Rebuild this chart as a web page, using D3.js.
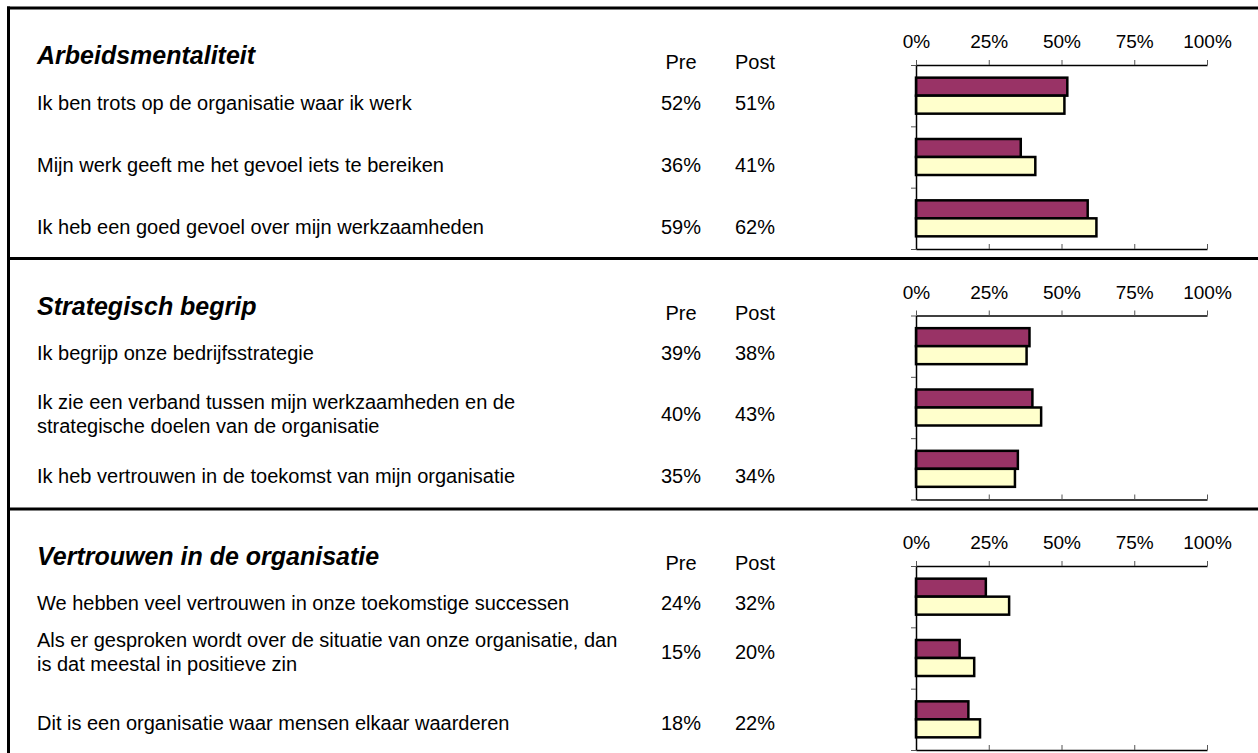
<!DOCTYPE html>
<html>
<head>
<meta charset="utf-8">
<script src="https://cdn.jsdelivr.net/npm/d3@7"></script>
<style>
  html, body { margin: 0; padding: 0; background: #fff; }
  svg { display: block; font-family: "Liberation Sans", Arial, sans-serif; }
</style>
</head>
<body>
<svg id="chart" width="1258" height="753"></svg>
<script>
// ---- data ----
const sectionTitles = ["Arbeidsmentaliteit", "Strategisch begrip", "Vertrouwen in de organisatie"];
const statements = [
  [["Ik ben trots op de organisatie waar ik werk"],
   ["Mijn werk geeft me het gevoel iets te bereiken"],
   ["Ik heb een goed gevoel over mijn werkzaamheden"]],
  [["Ik begrijp onze bedrijfsstrategie"],
   ["Ik zie een verband tussen mijn werkzaamheden en de", "strategische doelen van de organisatie"],
   ["Ik heb vertrouwen in de toekomst van mijn organisatie"]],
  [["We hebben veel vertrouwen in onze toekomstige successen"],
   ["Als er gesproken wordt over de situatie van onze organisatie, dan", "is dat meestal in positieve zin"],
   ["Dit is een organisatie waar mensen elkaar waarderen"]]
];
const preValues  = [[52, 36, 59], [39, 40, 35], [24, 15, 18]];
const postValues = [[51, 41, 62], [38, 43, 34], [32, 20, 22]];
const seriesNames = ["Pre", "Post"];
const tickValues = [0, 25, 50, 75, 100];

// ---- layout ----
const svg = d3.select("#chart");
const W = 1258, H = 753;
const sectionTop = 8, sectionH = 250.5;
const rowTextOffsets = [[95, 157, 219], [94, 155, 217], [94, 143, 214]];
const colors = { Pre: "#993366", Post: "#FFFFCC" };
const font = "'Liberation Sans', Arial, sans-serif";
const bodySize = 20, titleSize = 25, tickSize = 19;

const x = d3.scaleLinear().domain([0, 100]).range([916, 1207]);

sectionTitles.forEach((title, s) => {
  const y0 = sectionTop + s * sectionH;
  const g = svg.append("g");

  // title
  g.append("text")
    .attr("x", 37).attr("y", y0 + 56)
    .attr("font-size", titleSize).attr("font-weight", "bold").attr("font-style", "italic")
    .text(title);

  // column headers
  const colX = { Pre: 681, Post: 755 };
  seriesNames.forEach(n => {
    g.append("text").attr("x", colX[n]).attr("y", y0 + 61)
      .attr("text-anchor", "middle").attr("font-size", bodySize).text(n);
  });

  // rows
  statements[s].forEach((lines, r) => {
    const cy = y0 + rowTextOffsets[s][r];
    const lh = 24;
    const startY = cy - (lines.length - 1) * lh / 2;
    lines.forEach((ln, k) => {
      g.append("text").attr("x", 37).attr("y", startY + k * lh + 7)
        .attr("font-size", bodySize).text(ln);
    });
    g.append("text").attr("x", colX.Pre).attr("y", cy + 7)
      .attr("text-anchor", "middle").attr("font-size", bodySize).text(preValues[s][r] + "%");
    g.append("text").attr("x", colX.Post).attr("y", cy + 7)
      .attr("text-anchor", "middle").attr("font-size", bodySize).text(postValues[s][r] + "%");
  });

  // chart
  const top = y0 + 57, bottom = y0 + 241;
  const y = d3.scaleBand().domain(d3.range(statements[s].length)).range([top, bottom]);
  const inner = d3.scaleBand().domain(seriesNames).range([0, 36]);
  const pad = (y.bandwidth() - 36) / 2;

  const rows = g.selectAll("g.row").data(d3.range(statements[s].length)).enter()
    .append("g").attr("transform", r => `translate(0,${y(r) + pad})`);
  rows.append("rect")
    .attr("x", x(0)).attr("y", inner("Pre"))
    .attr("width", r => x(preValues[s][r]) - x(0)).attr("height", inner.bandwidth())
    .attr("fill", colors.Pre).attr("stroke", "#000").attr("stroke-width", 2.5);
  rows.append("rect")
    .attr("x", x(0)).attr("y", inner("Post"))
    .attr("width", r => x(postValues[s][r]) - x(0)).attr("height", inner.bandwidth())
    .attr("fill", colors.Post).attr("stroke", "#000").attr("stroke-width", 2.5);

  // top axis with labels
  const axTop = g.append("g").attr("transform", `translate(0,${top})`)
    .call(d3.axisTop(x).tickValues(tickValues).tickFormat(d => d + "%").tickSize(5).tickSizeOuter(0).tickPadding(12));
  // bottom axis, ticks pointing up, no labels
  const axBot = g.append("g").attr("transform", `translate(0,${bottom})`)
    .call(d3.axisTop(x).tickValues(tickValues).tickFormat("").tickSize(5).tickSizeOuter(0));
  // left axis with ticks at band boundaries
  const yb = d3.scaleLinear().domain([0, statements[s].length]).range([top, bottom]);
  const axLeft = g.append("g").attr("transform", `translate(${x(0)},0)`)
    .call(d3.axisLeft(yb).ticks(statements[s].length).tickFormat("").tickSize(5).tickSizeOuter(0));

  [axTop, axBot, axLeft].forEach(a => {
    a.selectAll("path.domain").attr("stroke", "#000").attr("stroke-width", 1.5);
    a.selectAll(".tick line").attr("stroke", "#555").attr("stroke-width", 1);
    a.selectAll("text").attr("font-family", font).attr("font-size", tickSize).attr("fill", "#000");
  });

  // section divider / top border
  svg.append("line").attr("x1", 7).attr("x2", W).attr("y1", y0).attr("y2", y0)
    .attr("stroke", "#000").attr("stroke-width", 3);
});

// left border
svg.append("line").attr("x1", 8.5).attr("x2", 8.5).attr("y1", sectionTop - 1.5).attr("y2", H)
  .attr("stroke", "#000").attr("stroke-width", 3);
</script>
</body>
</html>
